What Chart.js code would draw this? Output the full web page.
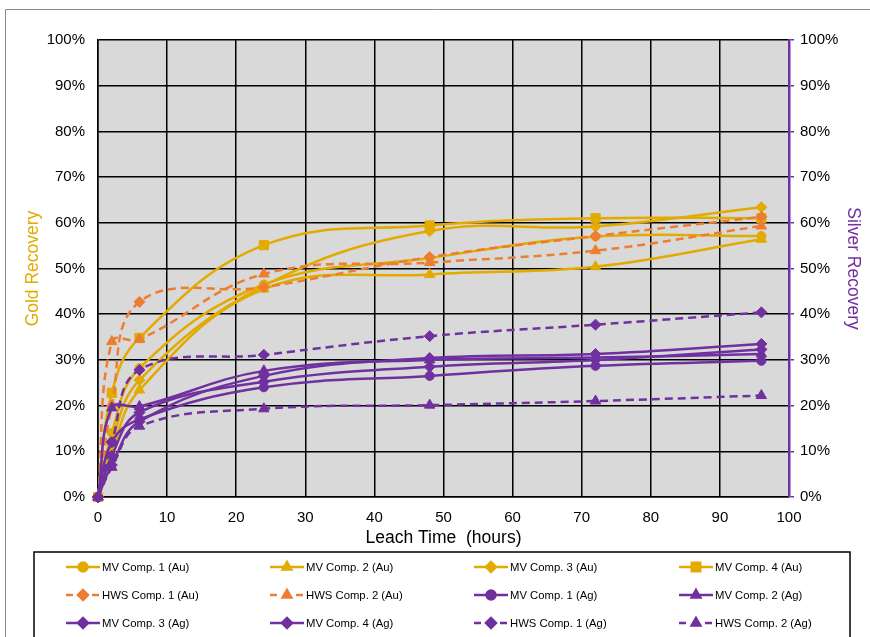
<!DOCTYPE html>
<html lang="en">
<head>
    <meta charset="UTF-8">
    <title>Gold and Silver Recovery vs Leach Time</title>
    <script src="https://cdn.jsdelivr.net/npm/chart.js"></script>
    <style>
        body {
            margin: 0;
            background: #ffffff;
        }

        .wrap {
            position: relative;
            width: 870px;
            height: 637px;
        }
    </style>
</head>
<body>
    <div class="wrap">
        <canvas id="recoveryChart" width="870" height="637"></canvas>
    </div>

    <script>
        "use strict";

        // leach time sampling points (hours)
        const hours = [0, 2, 6, 24, 48, 72, 96];
        const xTicks = [0, 10, 20, 30, 40, 50, 60, 70, 80, 90, 100];

        // gold recovery (%)
        const mvComp1Au = [0, 14.0, 28.2, 46.5, 52.3, 57.0, 57.1];
        const mvComp2Au = [0, 10.0, 23.4, 45.5, 48.7, 50.4, 56.4];
        const mvComp3Au = [0, 12.0, 25.6, 46.2, 58.2, 59.2, 63.4];
        const mvComp4Au = [0, 22.8, 34.8, 55.1, 59.4, 61.0, 61.0];
        const hwsComp1Au = [0, 20.0, 42.7, 45.9, 52.5, 57.1, 61.3];
        const hwsComp2Au = [0, 34.0, 34.5, 48.8, 51.3, 53.9, 59.3];

        // silver recovery (%)
        const mvComp1Ag = [0, 12.0, 17.0, 24.0, 26.5, 28.7, 29.8];
        const mvComp2Ag = [0, 19.5, 19.8, 27.6, 30.0, 30.5, 31.3];
        const mvComp3Ag = [0, 9.0, 18.5, 25.2, 28.5, 30.0, 32.3];
        const mvComp4Ag = [0, 7.0, 16.5, 26.5, 30.4, 31.3, 33.5];
        const hwsComp1Ag = [0, 12.0, 27.8, 31.1, 35.2, 37.7, 40.4];
        const hwsComp2Ag = [0, 6.5, 15.5, 19.3, 20.1, 21.0, 22.2];

        const GOLD = '#E3AA00';
        const ORANGE = '#ED7D31';
        const PURPLE = '#7030A0';
        const FONT = "'Liberation Sans', Arial, sans-serif";

        // marker sizes on the plot (rect is drawn smaller than its radius)
        const markerRadius = { circle: 4.5, triangle: 6, rectRot: 5.5, rect: 6.5 };
        // and in the legend
        const legendRadius = { circle: 4.5, triangle: 5, rectRot: 5, rect: 6 };

        // one dataset per test series
        function makeSeries(label, values, color, shape, dashed, axis) {
            return {
                label: label,
                data: hours.map((h, i) => ({ x: h, y: values[i] })),
                borderColor: color,
                backgroundColor: color,
                borderWidth: 2.5,
                borderDash: dashed ? [8, 5] : [],
                pointStyle: shape,
                pointRadius: markerRadius[shape],
                pointBorderWidth: 1,
                tension: 0.4,
                yAxisID: axis,
                clip: false
            };
        }

        const datasets = [
            makeSeries('MV Comp. 1 (Au)', mvComp1Au, GOLD, 'circle', false, 'y'),
            makeSeries('MV Comp. 2 (Au)', mvComp2Au, GOLD, 'triangle', false, 'y'),
            makeSeries('MV Comp. 3 (Au)', mvComp3Au, GOLD, 'rectRot', false, 'y'),
            makeSeries('MV Comp. 4 (Au)', mvComp4Au, GOLD, 'rect', false, 'y'),
            makeSeries('HWS Comp. 1 (Au)', hwsComp1Au, ORANGE, 'rectRot', true, 'y'),
            makeSeries('HWS Comp. 2 (Au)', hwsComp2Au, ORANGE, 'triangle', true, 'y'),
            makeSeries('MV Comp. 1 (Ag)', mvComp1Ag, PURPLE, 'circle', false, 'yR'),
            makeSeries('MV Comp. 2 (Ag)', mvComp2Ag, PURPLE, 'triangle', false, 'yR'),
            makeSeries('MV Comp. 3 (Ag)', mvComp3Ag, PURPLE, 'rectRot', false, 'yR'),
            makeSeries('MV Comp. 4 (Ag)', mvComp4Ag, PURPLE, 'rectRot', false, 'yR'),
            makeSeries('HWS Comp. 1 (Ag)', hwsComp1Ag, PURPLE, 'rectRot', true, 'yR'),
            makeSeries('HWS Comp. 2 (Ag)', hwsComp2Ag, PURPLE, 'triangle', true, 'yR')
        ];
        // later series go on top, like the spreadsheet
        datasets.forEach((d, i) => { d.order = datasets.length - i; });

        // grey plot background + outer frame
        const backdrop = {
            id: 'backdrop',
            beforeDraw(chart) {
                const { ctx, chartArea: a } = chart;
                ctx.save();
                ctx.fillStyle = '#ffffff';
                ctx.fillRect(0, 0, chart.width, chart.height);
                ctx.strokeStyle = '#8c8c8c';
                ctx.lineWidth = 1;
                ctx.beginPath();
                ctx.moveTo(5.5, chart.height);
                ctx.lineTo(5.5, 9.5);
                ctx.lineTo(chart.width, 9.5);
                ctx.stroke();
                ctx.fillStyle = '#D9D9D9';
                ctx.fillRect(a.left, a.top, a.right - a.left, a.bottom - a.top);
                ctx.restore();
            }
        };

        // legend in a 4-column grid inside a box under the plot
        const gridLegend = {
            id: 'gridLegend',
            afterDraw(chart) {
                const ctx = chart.ctx;
                const cols = [66, 270, 474, 679];
                const rows = [567, 595, 623];
                ctx.save();
                ctx.strokeStyle = '#000';
                ctx.lineWidth = 1.5;
                ctx.strokeRect(34, 552, 816, 90);
                ctx.font = '11.3px ' + FONT;
                ctx.textBaseline = 'middle';
                chart.data.datasets.forEach((ds, i) => {
                    const x = cols[i % 4];
                    const y = rows[Math.floor(i / 4)];
                    ctx.strokeStyle = ds.borderColor;
                    ctx.fillStyle = ds.borderColor;
                    ctx.lineWidth = 2.5;
                    ctx.setLineDash(ds.borderDash.length ? [7, 6] : []);
                    ctx.beginPath();
                    ctx.moveTo(x, y);
                    ctx.lineTo(x + 34, y);
                    ctx.stroke();
                    ctx.setLineDash([]);
                    Chart.helpers.drawPoint(ctx, {
                        pointStyle: ds.pointStyle,
                        radius: legendRadius[ds.pointStyle],
                        rotation: 0,
                        borderWidth: 1
                    }, x + 17, y);
                    ctx.fillStyle = '#000';
                    ctx.fillText(ds.label, x + 36, y + 1);
                });
                ctx.restore();
            }
        };

        const tickFont = { family: FONT, size: 15 };
        const titleFont = { family: FONT, size: 17.5 };

        new Chart(document.getElementById('recoveryChart'), {
            type: 'line',
            data: { datasets: datasets },
            options: {
                responsive: false,
                animation: false,
                layout: { padding: { top: 40, left: 0, right: 0, bottom: 85 } },
                plugins: {
                    legend: { display: false },
                    tooltip: { enabled: false }
                },
                scales: {
                    x: {
                        type: 'linear',
                        min: 0,
                        max: 100,
                        afterBuildTicks(s) { s.ticks = xTicks.map(v => ({ value: v })); },
                        afterFit(s) { s.height = 55; },
                        grid: { color: '#000', lineWidth: 1.5, drawTicks: false },
                        border: { color: '#000', width: 1.5 },
                        ticks: { color: '#000', font: tickFont, padding: 12, maxRotation: 0 },
                        title: {
                            display: true,
                            text: 'Leach Time  (hours)',
                            color: '#000',
                            font: titleFont,
                            padding: { top: 0, bottom: 3.5 }
                        }
                    },
                    y: {
                        position: 'left',
                        min: 0,
                        max: 100,
                        afterFit(s) { s.width = 98; },
                        grid: { color: '#000', lineWidth: 1.5, drawTicks: false },
                        border: { color: '#000', width: 1.5 },
                        ticks: {
                            stepSize: 10,
                            color: '#000',
                            font: tickFont,
                            padding: 13,
                            callback: v => v + '%'
                        },
                        title: {
                            display: true,
                            text: 'Gold Recovery',
                            color: GOLD,
                            font: titleFont,
                            padding: { top: 22.5, bottom: 0 }
                        }
                    },
                    yR: {
                        position: 'right',
                        min: 0,
                        max: 100,
                        afterFit(s) { s.width = 81; },
                        grid: {
                            drawOnChartArea: false,
                            color: PURPLE,
                            lineWidth: 1.5,
                            tickLength: 5
                        },
                        border: { color: PURPLE, width: 2.5 },
                        ticks: {
                            stepSize: 10,
                            color: '#000',
                            font: tickFont,
                            padding: 6,
                            callback: v => v + '%'
                        },
                        title: {
                            display: true,
                            text: 'Silver Recovery',
                            color: PURPLE,
                            font: titleFont,
                            padding: { top: 6.5, bottom: 0 }
                        }
                    }
                }
            },
            plugins: [backdrop, gridLegend]
        });
    </script>
</body>
</html>
